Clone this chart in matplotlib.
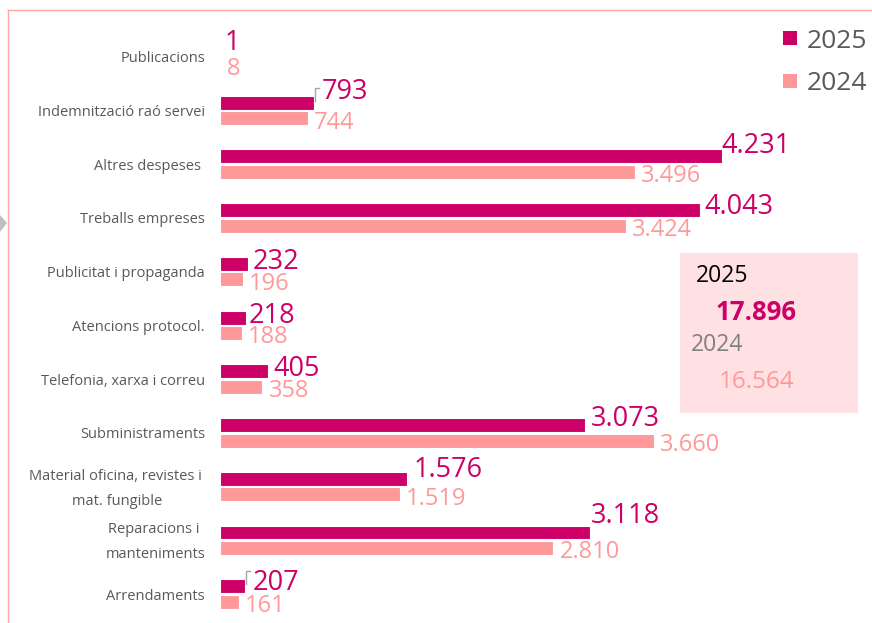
import numpy as np
import matplotlib
matplotlib.use("Agg")
import matplotlib.pyplot as plt
from matplotlib.patches import Rectangle, Polygon
from matplotlib.lines import Line2D

plt.rcParams['font.family'] = ['Open Sans', 'DejaVu Sans']

# data
categories = ['Publicacions', 'Indemnització raó servei', 'Altres despeses ',
              'Treballs empreses', 'Publicitat i propaganda', 'Atencions protocol.',
              'Telefonia, xarxa i correu', 'Subministraments',
              'Material oficina, revistes i \nmat. fungible',
              'Reparacions i \nmanteniments', 'Arrendaments']
v2025 = [1, 793, 4231, 4043, 232, 218, 405, 3073, 1576, 3118, 207]
v2024 = [8, 744, 3496, 3424, 196, 188, 358, 3660, 1519, 2810, 161]
total_2025 = 17896
total_2024 = 16564
years = ['2025', '2024']

# label nudges (pixels), hand placed in the original
lift25 = [7, 12, 11, 4, 3, 2, 3, 7, 10, 17, 4]
dx25 = [4, 8, -1, 5, 5, 3, 5, 6, 7, 1, 8]
leader = [False, True, False, False, False, False, False, False, False, False, True]

c25 = '#CC0066'
c24 = '#FF9999'
grey = '#595959'

W, H = 872, 623
fig = plt.figure(figsize=(W / 100, H / 100), dpi=100)

def fx(px):
    return px / W

def fy(py):
    return 1 - py / H

x0 = 220
px_per_unit = 502 / 4231
xmax = (W - x0) / px_per_unit
row = 53.72
ytop = 56.8
ax = fig.add_axes([x0 / W, 0, (W - x0) / W, 1])
ax.set_xlim(0, xmax)
ax.set_ylim((H - ytop) / row, -ytop / row)

y = np.arange(len(categories))
bh = 0.26
off = 0.145
ax.barh(y - off, v2025, height=bh, color=c25, edgecolor='white', linewidth=0.8)
ax.barh(y + off, v2024, height=bh, color=c24, edgecolor='white', linewidth=0.8)

def fmt(v):
    return f"{v:,}".replace(',', '.')

for i in range(len(categories)):
    ax.annotate(fmt(v2025[i]), (v2025[i], i), xytext=(dx25[i], lift25[i]),
                textcoords='offset pixels', va='baseline', ha='left',
                fontsize=19.5, color=c25)
    ax.annotate(fmt(v2024[i]), (v2024[i], i), xytext=(6, -18),
                textcoords='offset pixels', va='baseline', ha='left',
                fontsize=17, color=c24)
    if leader[i]:
        xl = v2025[i] + 1 / px_per_unit
        ax.plot([xl, xl, xl + 4 / px_per_unit],
                [i - 10 / row, i - 23 / row, i - 23 / row],
                color='#A6A6A6', lw=1)
    # category label
    ax.annotate(categories[i], (0, i), xytext=(-15, -2), textcoords='offset pixels',
                ha='right', va='center', multialignment='center',
                linespacing=1.9, fontsize=10.5, color=grey, annotation_clip=False)

ax.set_xticks([])
ax.set_yticks([])
for s in ax.spines.values():
    s.set_visible(False)
ax.patch.set_alpha(0)

# legend
for yr, col, top, base in [(years[0], c25, 31, 48), (years[1], c24, 74, 90)]:
    fig.patches.append(Rectangle((fx(783), fy(top + 14)), 14 / W, 14 / H,
                                 transform=fig.transFigure, facecolor=col,
                                 edgecolor='none'))
    fig.text(fx(807), fy(base), yr, fontsize=19, color=grey, va='baseline')

# totals box
fig.patches.append(Rectangle((fx(680), fy(413)), 178 / W, 160 / H,
                             transform=fig.transFigure, facecolor='#FFE1E4',
                             edgecolor='none', zorder=0))
fig.text(fx(696), fy(282), '2025', fontsize=16.5, color='black', va='baseline')
fig.text(fx(716), fy(320), fmt(total_2025), fontsize=18.5, fontweight='bold',
         color=c25, va='baseline')
fig.text(fx(691), fy(351), '2024', fontsize=16.5, color='#808080', va='baseline')
fig.text(fx(719), fy(388), fmt(total_2024), fontsize=17.5, color=c24, va='baseline')

# frame and marker
fig.add_artist(Line2D([fx(8), fx(8)], [0, fy(10)], color='#FFA6A6', lw=1))
fig.add_artist(Line2D([fx(8), 1], [fy(10), fy(10)], color='#FFA6A6', lw=1))
fig.patches.append(Polygon([(0, fy(215)), (fx(7), fy(223)), (0, fy(232))],
                           closed=True, transform=fig.transFigure,
                           facecolor='#BFBFBF', edgecolor='none'))

fig.savefig('out.png', dpi=100)
